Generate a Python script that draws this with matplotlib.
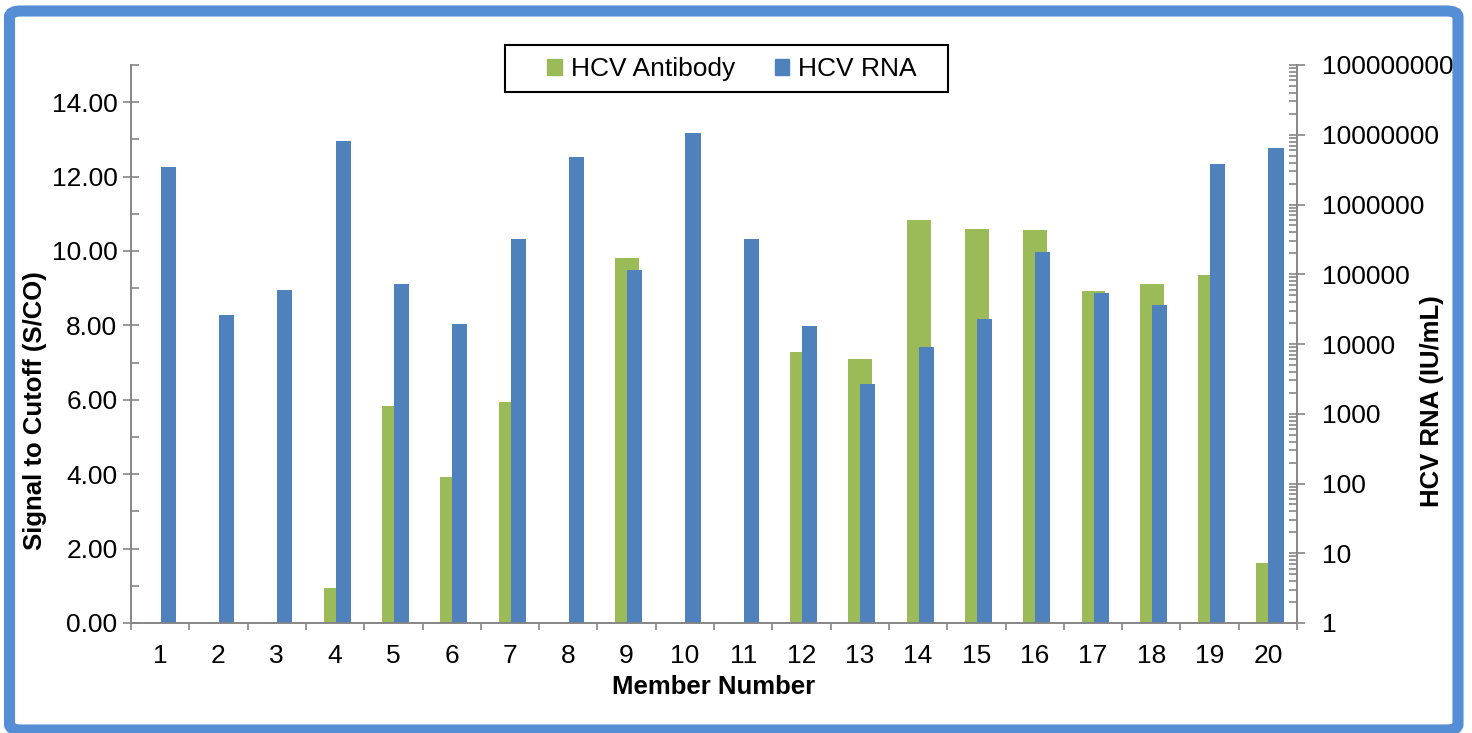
import numpy as np
import matplotlib.pyplot as plt
from matplotlib.patches import FancyBboxPatch, Patch, Rectangle
from matplotlib.ticker import FixedLocator, FuncFormatter, NullFormatter

plt.rcParams['font.family'] = ['Liberation Sans', 'DejaVu Sans']

members = list(range(1, 21))
antibody = [0.04, 0.04, 0.04, 0.95, 5.82, 3.92, 5.95, 0.04, 9.81, 0.04,
            0.04, 7.29, 7.11, 10.83, 10.59, 10.57, 8.93, 9.12, 9.36, 1.61]   # S/CO
rna = [3.45e6, 2.6e4, 5.9e4, 8.13e6, 7.25e4, 1.94e4, 3.2e5, 4.8e6, 1.15e5, 1.06e7,
       3.2e5, 1.81e4, 2.67e3, 9.06e3, 2.28e4, 2.08e5, 5.39e4, 3.62e4, 3.81e6, 6.46e6]  # IU/mL

green = '#9BBB59'
blue = '#4F81BD'
gray = '#868686'

fig = plt.figure(figsize=(14.72, 7.33), dpi=100)
ax = fig.add_axes([131/1472, 1 - 623/733, (1297 - 131)/1472, (623 - 65)/733])
ax2 = ax.twinx()

x = np.array(members)
ax.bar(x + 0.01, antibody, width=0.41, color=green, zorder=2)
ax2.bar(x + 0.01, rna, width=0.26, align='edge', color=blue, zorder=2)

# left axis
ax.set_xlim(0.5, 20.5)
ax.set_ylim(0, 15)
ax.yaxis.set_major_locator(FixedLocator(np.arange(0, 15, 2)))
ax.yaxis.set_minor_locator(FixedLocator(np.arange(1, 16, 2)))
ax.yaxis.set_major_formatter(FuncFormatter(lambda v, p: '%.2f' % v))
ax.tick_params(axis='y', which='major', direction='inout', length=11.5, width=1.2,
               color=gray, labelsize=19, pad=4)
ax.tick_params(axis='y', which='minor', direction='in', length=5.8, width=1.2, color=gray)

# x axis: ticks between categories, labels at centres
ax.xaxis.set_major_locator(FixedLocator(np.arange(0.5, 21, 1)))
ax.xaxis.set_major_formatter(NullFormatter())
ax.xaxis.set_minor_locator(FixedLocator(x))
ax.xaxis.set_minor_formatter(FuncFormatter(lambda v, p: '%d' % v))
ax.tick_params(axis='x', which='major', direction='out', length=5, width=1.2, color=gray)
ax.tick_params(axis='x', which='minor', length=0, labelsize=19, pad=15)

# right axis (log)
ax2.set_yscale('log')
ax2.set_ylim(1, 1e8)
ax2.yaxis.set_major_locator(FixedLocator([10.0 ** k for k in range(9)]))
ax2.yaxis.set_major_formatter(FuncFormatter(lambda v, p: '%d' % round(v)))
ax2.yaxis.set_minor_locator(FixedLocator([m * 10.0 ** k for k in range(8) for m in range(2, 10)]))
ax2.yaxis.set_minor_formatter(NullFormatter())
ax2.tick_params(axis='y', which='major', direction='inout', length=11.5, width=1.2,
                color=gray, labelsize=19, pad=12)
ax2.tick_params(axis='y', which='minor', direction='in', length=5.8, width=1.2, color=gray)

for a in (ax, ax2):
    a.spines['top'].set_visible(False)
    for s in ('left', 'right', 'bottom'):
        a.spines[s].set_color(gray)
        a.spines[s].set_linewidth(1.2)

fig.text(35/1472, 1 - 411/733, 'Signal to Cutoff (S/CO)', rotation=90, ha='center', va='center',
         fontsize=18.5, fontweight='bold')
fig.text(1432/1472, 1 - 401/733, 'HCV RNA (IU/mL)', rotation=90, ha='center', va='center',
         fontsize=18.5, fontweight='bold')
fig.text(714/1472, 1 - 687/733, 'Member Number', ha='center', va='center',
         fontsize=18.5, fontweight='bold')

# legend: entries without frame, plain black box drawn around them
handles = [Patch(color=green, label='HCV Antibody'), Patch(color=blue, label='HCV RNA')]
leg = fig.legend(handles=handles, loc='center', bbox_to_anchor=(732/1472, 1 - 69/733),
                 ncol=2, fontsize=19, frameon=False, handlelength=0.55,
                 handleheight=0.55, handletextpad=0.35, columnspacing=1.5)
fig.patches.append(Rectangle((505/1472, 1 - 92/733), (948 - 505)/1472, (92 - 45)/733,
                             transform=fig.transFigure, fill=False, edgecolor='black',
                             linewidth=1.5, zorder=5))

# blue rounded frame around the figure
frame = FancyBboxPatch((9.5/1472, 1 - 730/733), (1458 - 9.5)/1472, (730 - 11)/733,
                       boxstyle='round,pad=0,rounding_size=0.008', transform=fig.transFigure,
                       fill=False, edgecolor='#558ED5', linewidth=8)
fig.patches.append(frame)

fig.savefig('out.png', dpi=100)
